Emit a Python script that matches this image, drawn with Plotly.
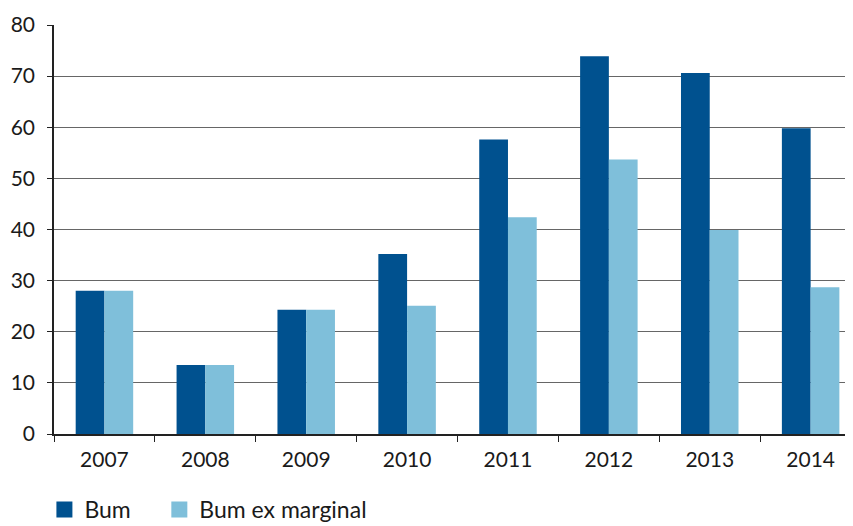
import plotly.graph_objects as go

years = ["2007", "2008", "2009", "2010", "2011", "2012", "2013", "2014"]
bum = [28.0, 13.5, 24.3, 35.2, 57.6, 73.9, 70.6, 59.8]
bum_ex_marginal = [28.0, 13.5, 24.3, 25.1, 42.4, 53.7, 39.9, 28.7]
y_ticks = [0, 10, 20, 30, 40, 50, 60, 70, 80]
series_names = ["Bum", "Bum ex marginal"]
series_colors = ["#00518F", "#7FBFDA"]

font_family = "Lato, 'Open Sans', sans-serif"

fig = go.Figure()
for name, vals, col in zip(series_names, [bum, bum_ex_marginal], series_colors):
    fig.add_trace(go.Bar(x=years, y=vals, name=name, marker_color=col,
                         marker_line_width=0, showlegend=False))
# legend entries with larger square swatches
legend_pad = ["\u00a0" * 4, ""]
for name, col, pad in zip(series_names, series_colors, legend_pad):
    fig.add_trace(go.Scatter(x=[None], y=[None], name=name + pad, mode="markers",
                             marker=dict(symbol="square", size=22, color=col),
                             showlegend=True))

fig.update_layout(
    width=845, height=518,
    margin=dict(l=46, r=0, t=17, b=92, autoexpand=False),
    paper_bgcolor="white", plot_bgcolor="white",
    barmode="group", bargap=0.43, bargroupgap=0,
    font=dict(family=font_family, color="#1a1a1a", size=21),
    showlegend=True,
    legend=dict(orientation="h", x=-0.012, y=-0.132, yanchor="top", xanchor="left",
                font=dict(size=23), traceorder="normal", itemsizing="trace",
                itemwidth=30, tracegroupgap=0),
)
fig.update_xaxes(
    type="category", range=[-0.5, 7.42], automargin=False,
    showline=True, linecolor="#222", linewidth=1.5,
    ticks="outside", ticklen=6, tickcolor="#222", tickwidth=1.2,
    tickson="boundaries", showgrid=False,
    tickfont=dict(size=21), ticklabelstandoff=6,
)
fig.update_yaxes(
    range=[0, 80], tickvals=y_ticks, automargin=False,
    showline=True, linecolor="#222", linewidth=1.5,
    ticks="outside", ticklen=5, tickcolor="#222", tickwidth=1.2,
    showgrid=True, gridcolor="#666", gridwidth=1.3,
    zeroline=False, tickfont=dict(size=21), ticklabelstandoff=8,
)
fig.write_html("out.html")
